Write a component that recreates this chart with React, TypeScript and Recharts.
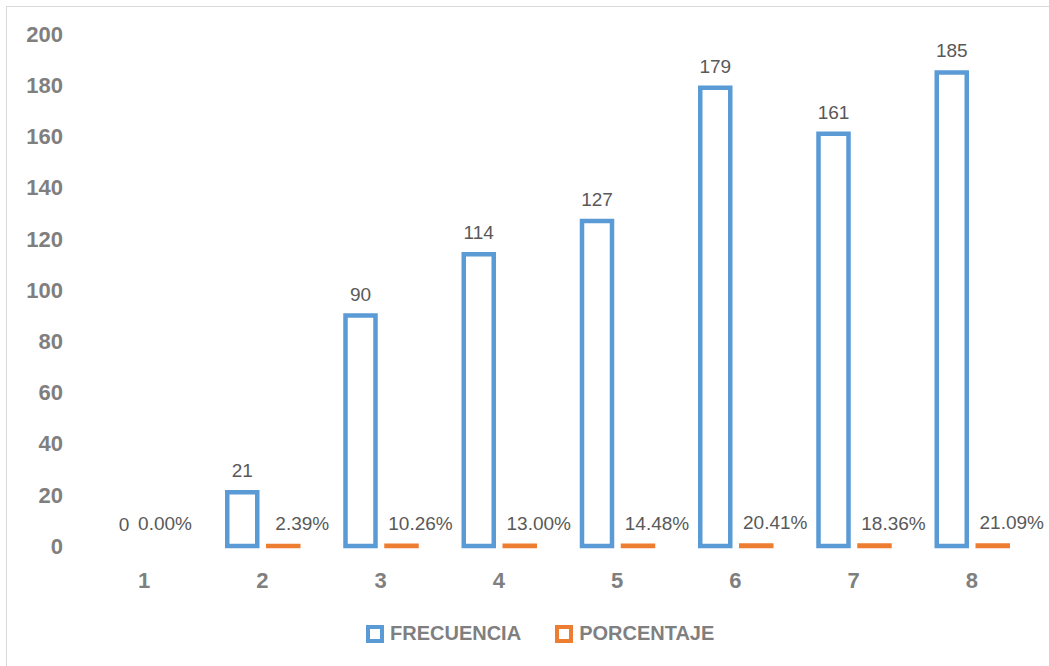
import React from "react";
import { BarChart, Bar, XAxis, YAxis, LabelList, Rectangle } from "recharts";

// Values
const categories = ["1", "2", "3", "4", "5", "6", "7", "8"];
const frecuencia = [0, 21, 90, 114, 127, 179, 161, 185];
const porcentaje = [0, 0.0239, 0.1026, 0.13, 0.1448, 0.2041, 0.1836, 0.2109];
const yTicks = [0, 20, 40, 60, 80, 100, 120, 140, 160, 180, 200];

const data = categories.map((c, i) => ({
  cat: c,
  frecuencia: frecuencia[i],
  porcentaje: porcentaje[i],
}));

const BLUE = "#5b9bd5";
const ORANGE = "#ed7d31";
const LABEL = "#595959";
const AXIS = "#7f7f7f";
const FONT = "'Liberation Sans', Arial, sans-serif";

// zero values get a tiny bar so their labels are still drawn; the shape hides them
const keepZero = (v: any) => (Number(v) === 0 ? 0.0001 : 0);

function makeShape(key: "frecuencia" | "porcentaje") {
  return (props: any) => {
    if (!props.payload || props.payload[key] === 0) return <g />;
    return <Rectangle {...props} />;
  };
}

function FreqLabel(props: any) {
  const { x, width, value } = props;
  const y = value === 0 ? 546 : props.y;
  return (
    <text
      x={x + width / 2}
      y={y - 15}
      textAnchor="middle"
      fill={LABEL}
      fontSize={19}
      fontFamily={FONT}
    >
      {value}
    </text>
  );
}

function PctLabel(props: any) {
  const { x, width, value } = props;
  const y = value === 0 ? 546 : props.y;
  const dx = value > 0 ? 19 : 0;
  return (
    <text
      x={x + width / 2 + dx}
      y={y - 16}
      textAnchor="middle"
      fill={LABEL}
      fontSize={19}
      fontFamily={FONT}
    >
      {(value * 100).toFixed(2) + "%"}
    </text>
  );
}

function LegendItem({ color, label }: { color: string; label: string }) {
  return (
    <div style={{ display: "flex", alignItems: "center" }}>
      <div
        style={{
          width: 18,
          height: 18,
          boxSizing: "border-box",
          border: `4px solid ${color}`,
          background: "#fff",
          marginRight: 6,
        }}
      />
      <span style={{ fontSize: 20, fontWeight: 700, color: AXIS, fontFamily: FONT }}>
        {label}
      </span>
    </div>
  );
}

export default function App() {
  return (
    <div
      style={{
        position: "absolute",
        left: 0,
        top: 0,
        width: 1049,
        height: 666,
        background: "#fff",
        overflow: "hidden",
      }}
    >
      <div
        style={{
          position: "absolute",
          left: 6,
          top: 6,
          width: 1060,
          height: 680,
          borderLeft: "1px solid #d9d9d9",
          borderTop: "1px solid #d9d9d9",
        }}
      />
      <BarChart
        width={1049}
        height={666}
        data={data}
        margin={{ top: 34, right: 18, left: 25, bottom: 90 }}
        barSize={30}
        barGap={11}
        style={{ position: "absolute", left: 0, top: 0 }}
      >
        <XAxis
          dataKey="cat"
          axisLine={false}
          tickLine={false}
          tickSize={0}
          tickMargin={26}
          height={30}
          tick={{ fontSize: 22, fontWeight: 700, fill: AXIS, fontFamily: FONT }}
        />
        <YAxis
          domain={[0, 200]}
          ticks={yTicks}
          axisLine={false}
          tickLine={false}
          tickSize={0}
          tickMargin={22}
          width={60}
          interval={0}
          tick={{ fontSize: 22, fontWeight: 700, fill: AXIS, fontFamily: FONT }}
        />
        <Bar
          dataKey="frecuencia"
          fill="#fff"
          stroke={BLUE}
          strokeWidth={4.5}
          minPointSize={keepZero}
          shape={makeShape("frecuencia")}
          isAnimationActive={false}
        >
          <LabelList dataKey="frecuencia" content={<FreqLabel />} />
        </Bar>
        <Bar
          dataKey="porcentaje"
          fill="#fff"
          stroke={ORANGE}
          strokeWidth={4.5}
          minPointSize={keepZero}
          shape={makeShape("porcentaje")}
          isAnimationActive={false}
        >
          <LabelList dataKey="porcentaje" content={<PctLabel />} />
        </Bar>
      </BarChart>
      <div
        style={{
          position: "absolute",
          left: 366,
          top: 622,
          display: "flex",
          gap: 34,
        }}
      >
        <LegendItem color={BLUE} label="FRECUENCIA" />
        <LegendItem color={ORANGE} label="PORCENTAJE" />
      </div>
    </div>
  );
}
